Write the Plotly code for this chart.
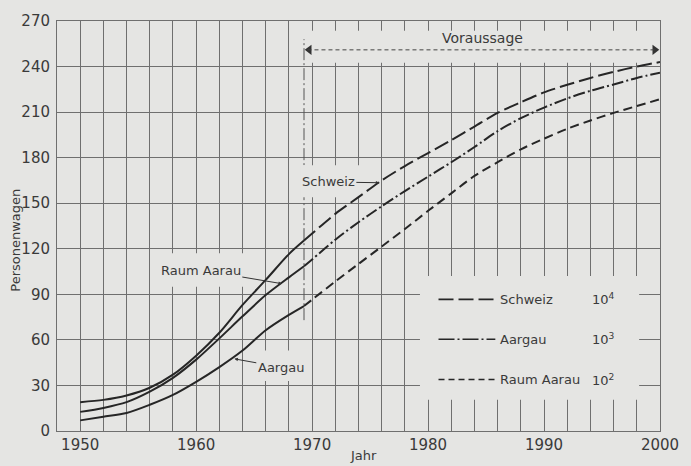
import plotly.graph_objects as go

# ---------------- data ----------------
years_hist = [1950, 1952, 1954, 1956, 1958, 1960, 1962, 1964, 1966, 1968, 1969.3]
schweiz_hist = [19.0, 20.5, 23.4, 28.5, 37.1, 49.6, 64.7, 83.0, 99.5, 116.5, 125.4]
aargau_hist = [12.6, 15.2, 19.0, 25.9, 35.0, 47.0, 61.0, 75.5, 89.5, 101.2, 108.5]
raum_hist = [7.0, 9.4, 11.9, 17.3, 23.8, 32.4, 42.1, 53.0, 66.4, 76.5, 82.3]

years_fc = [1969.3, 1970, 1972, 1974, 1976, 1978, 1980, 1982, 1984, 1986, 1988, 1990,
            1992, 1994, 1996, 1998, 2000]
schweiz_fc = [125.4, 130.0, 143.0, 154.0, 165.0, 174.5, 183.0, 191.5, 200.5, 209.5, 216.5,
              223.0, 228.0, 232.5, 236.5, 240.0, 243.0]
aargau_fc = [108.5, 113.0, 126.0, 137.5, 148.0, 158.0, 167.5, 177.0, 187.0, 197.5, 206.0,
             213.0, 219.0, 224.0, 228.2, 232.5, 236.0]
raum_fc = [82.3, 86.5, 98.5, 110.0, 121.5, 133.0, 145.0, 156.5, 168.0, 177.0, 185.5,
           192.5, 199.0, 204.5, 209.5, 214.0, 218.5]

forecast_start = 1969.3
forecast_end = 2000
forecast_level = 251
forecast_label = "Voraussage"

legend_names = ["Schweiz", "Aargau", "Raum Aarau"]
legend_units = ["10<sup>4</sup>", "10<sup>3</sup>", "10<sup>2</sup>"]

x_title = "Jahr"
y_title = "Personenwagen"

# ---------------- styles ----------------
BG = "#e5e5e3"
GRID = "#6f6f6f"
INK = "#262626"
TXT = "#3a3a3a"
FONT = "DejaVu Sans"
DASHES = ["15px,5px", "12px,3px,2px,3px", "9px,5px"]
LEG_DASHES = ["15px,5px", "16px,3px,2px,3px", "6px,4px"]

fig = go.Figure()

hist_series = [schweiz_hist, aargau_hist, raum_hist]
fc_series = [schweiz_fc, aargau_fc, raum_fc]
for name, h, f, d in zip(legend_names, hist_series, fc_series, DASHES):
    fig.add_trace(go.Scatter(x=years_hist, y=h, mode="lines", name=name,
                             line=dict(color=INK, width=2, shape="spline", smoothing=0.8),
                             showlegend=False, hoverinfo="skip"))
    fig.add_trace(go.Scatter(x=years_fc, y=f, mode="lines", name=name + " Voraussage",
                             line=dict(color=INK, width=2, dash=d, shape="spline", smoothing=0.8),
                             showlegend=False, hoverinfo="skip"))

# arrowheads of the forecast span
fig.add_trace(go.Scatter(x=[forecast_start + 0.45, forecast_end - 0.45],
                         y=[forecast_level, forecast_level], mode="markers",
                         marker=dict(symbol=["triangle-left", "triangle-right"], size=9,
                                     color="#333", line=dict(width=0)),
                         showlegend=False, hoverinfo="skip", cliponaxis=False))

shapes = []
# vertical dash-dot line marking start of forecast
shapes.append(dict(type="line", xref="x", yref="y", x0=forecast_start, x1=forecast_start,
                   y0=73, y1=258, layer="between",
                   line=dict(color="#555", width=1, dash="12px,3px,2px,3px")))
# masks (paper patches behind labels)
masks = [
    (1979.3, 1998.2, 20.5, 102),   # legend
    (1969.6, 1999.8, 242.5, 263.5),  # Voraussage
    (1969.0, 1975.2, 154, 175),    # Schweiz label
    (1956.3, 1964.5, 95, 117),     # Raum Aarau label
    (1964.6, 1969.9, 33, 53),      # Aargau label
]
for x0, x1, y0, y1 in masks:
    shapes.append(dict(type="rect", xref="x", yref="y", x0=x0, x1=x1, y0=y0, y1=y1,
                       layer="between", fillcolor=BG, line=dict(width=0)))
# forecast arrow line (dashed)
shapes.append(dict(type="line", xref="x", yref="y", x0=forecast_start + 0.3, x1=forecast_end - 0.3,
                   y0=forecast_level, y1=forecast_level, layer="above",
                   line=dict(color="#444", width=1, dash="4px,3px")))
# legend samples
leg_y = [86.7, 60.4, 33.9]
for yy, d in zip(leg_y, LEG_DASHES):
    shapes.append(dict(type="line", xref="x", yref="y", x0=1980.9, x1=1985.8, y0=yy, y1=yy,
                       layer="above", line=dict(color=INK, width=1.6, dash=d)))
fig.update_layout(shapes=shapes)

ann = []
ann.append(dict(x=1984.7, y=258.5, xref="x", yref="y", text=forecast_label, showarrow=False,
                font=dict(family=FONT, size=14, color=TXT)))
# curve labels
ann.append(dict(x=1975.8, y=163.5, ax=1971.4, ay=164, axref="x", ayref="y", xref="x", yref="y",
                text="Schweiz", showarrow=True, arrowhead=2, arrowsize=0.7, arrowwidth=1,
                arrowcolor="#333", font=dict(family=FONT, size=13, color=TXT)))
ann.append(dict(x=1967.4, y=97.0, ax=1960.4, ay=106, axref="x", ayref="y", xref="x", yref="y",
                text="Raum Aarau", showarrow=True, arrowhead=2, arrowsize=0.7, arrowwidth=1,
                arrowcolor="#333", font=dict(family=FONT, size=13, color=TXT)))
ann.append(dict(x=1963.3, y=47.5, ax=1967.3, ay=42, axref="x", ayref="y", xref="x", yref="y",
                text="Aargau", showarrow=True, arrowhead=2, arrowsize=0.7, arrowwidth=1,
                arrowcolor="#333", font=dict(family=FONT, size=13, color=TXT)))
# legend texts
for yy, nm, un in zip(leg_y, legend_names, legend_units):
    ann.append(dict(x=1986.0, y=yy, xref="x", yref="y", text=nm, showarrow=False, xanchor="left",
                    font=dict(family=FONT, size=13, color=TXT)))
    ann.append(dict(x=1994.0, y=yy, xref="x", yref="y", text=un, showarrow=False, xanchor="left",
                    font=dict(family=FONT, size=13, color=TXT)))
# axis titles
ann.append(dict(x=0.508, y=-0.06, xref="paper", yref="paper", text=x_title, showarrow=False,
                yanchor="middle", font=dict(family=FONT, size=13, color=TXT)))
ann.append(dict(x=-0.069, y=0.465, xref="paper", yref="paper", text=y_title, showarrow=False,
                textangle=-90, xanchor="center", yanchor="middle",
                font=dict(family=FONT, size=13, color=TXT)))
fig.update_layout(annotations=ann)

fig.update_xaxes(range=[1948, 2000], tick0=1950, dtick=10, showgrid=True, gridcolor=GRID,
                 gridwidth=1, minor=dict(tick0=1950, dtick=2, showgrid=True, gridcolor=GRID,
                                         gridwidth=1),
                 showline=True, linecolor=GRID, linewidth=1, mirror=True, zeroline=False,
                 ticks="", tickfont=dict(family=FONT, size=15, color=TXT))
fig.update_yaxes(range=[0, 270], tick0=0, dtick=30, showgrid=True, gridcolor=GRID, gridwidth=1,
                 showline=True, linecolor=GRID, linewidth=1, mirror=True, zeroline=False,
                 ticks="", ticklabelstandoff=3, tickfont=dict(family=FONT, size=15, color=TXT))

fig.update_layout(width=691, height=466, paper_bgcolor=BG, plot_bgcolor=BG,
                  margin=dict(l=57, r=28, t=15, b=32), showlegend=False)

fig.write_html("out.html", config={"displayModeBar": False, "staticPlot": True},
               post_script="document.body.style.margin='0';document.body.style.padding='0';"
                           "document.body.style.background='" + BG + "';")
